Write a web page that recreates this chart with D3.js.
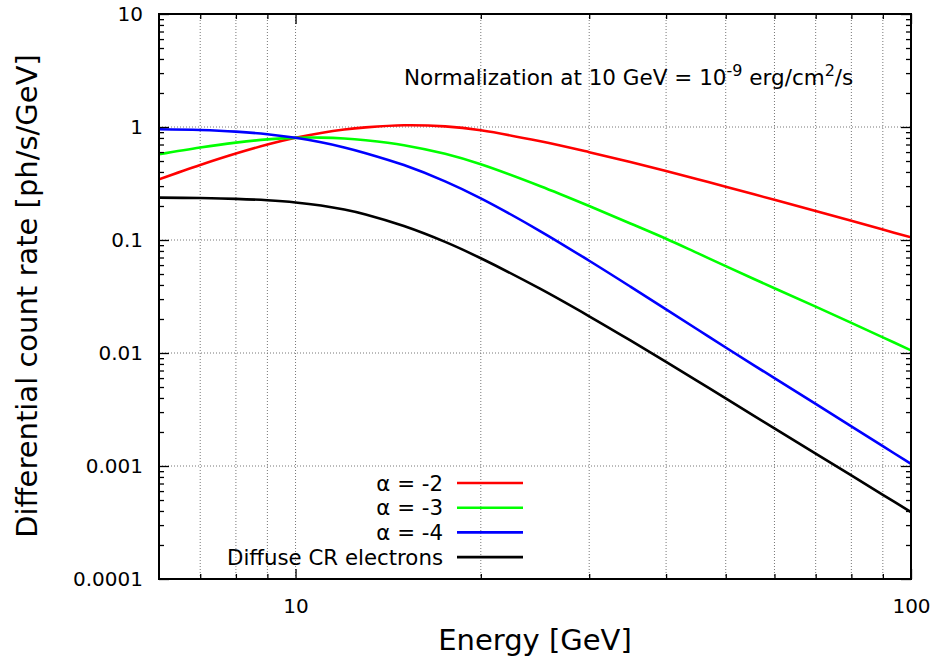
<!DOCTYPE html>
<html><head><meta charset="utf-8">
<script src="https://cdn.jsdelivr.net/npm/d3@7"></script>
<style>body{margin:0;background:#fff}svg{display:block}text{font-family:"DejaVu Sans",sans-serif;fill:#000}</style>
</head><body><svg id="c" width="938" height="658"></svg>
<script>
const energy = [6, 7, 8, 9, 10, 11, 12, 13, 15, 17.5, 20, 25, 30, 35, 40, 45, 50, 60, 70, 80, 90, 100];
const alpha2 = [0.344, 0.461, 0.582, 0.699, 0.802, 0.886, 0.95, 0.992, 1.036, 1.0125, 0.935, 0.747, 0.599, 0.49, 0.4075, 0.345, 0.296, 0.2267, 0.1804, 0.1477, 0.1238, 0.1056];
const alpha3 = [0.5733, 0.6586, 0.7275, 0.7767, 0.802, 0.8055, 0.7917, 0.7631, 0.6907, 0.5786, 0.4675, 0.2988, 0.1997, 0.14, 0.1025, 0.0765, 0.0588, 0.0374, 0.0257, 0.01846, 0.01376, 0.01056];
const alpha4 = [0.9556, 0.9408, 0.9094, 0.863, 0.802, 0.7322, 0.6597, 0.587, 0.4604, 0.3306, 0.2338, 0.1195, 0.0655, 0.03868, 0.02432, 0.01614, 0.01118, 0.00599, 0.003539, 0.00224, 0.001498, 0.001044];
const electrons = [0.237, 0.2351, 0.2314, 0.2247, 0.215, 0.202, 0.1861, 0.1684, 0.1329, 0.0962, 0.0689, 0.03688, 0.02114, 0.01292, 0.00833, 0.005634, 0.003961, 0.002155, 0.001288, 0.000825, 0.000556, 0.000391];
const seriesNames = ["α = -2", "α = -3", "α = -4", "Diffuse CR electrons"];
const seriesColors = ["#ff0000", "#00ff00", "#0000ff", "#000000"];
const xTickLabels = ["10", "100"];
const yTickLabels = ["0.0001", "0.001", "0.01", "0.1", "1", "10"];

const svg = d3.select("#c");
const L = 159, R = 911, T = 14, B = 579;
const x = d3.scaleLog().domain([6, 100]).range([L, R]);
const y = d3.scaleLog().domain([1e-4, 10]).range([B, T]);

// grid
const xMinor = [7,8,9,20,30,40,50,60,70,80,90];
const xAll = [7,8,9,10,20,30,40,50,60,70,80,90];
const g = svg.append("g");
g.selectAll("line.vx").data(xAll).join("line")
  .attr("x1", d => x(d)).attr("x2", d => x(d)).attr("y1", T).attr("y2", B)
  .attr("stroke", "#777").attr("stroke-width", 1).attr("stroke-dasharray", "1,2");
const yMajor = [1e-3, 1e-2, 1e-1, 1];
g.selectAll("line.hy").data(yMajor).join("line")
  .attr("x1", L).attr("x2", R).attr("y1", d => y(d)).attr("y2", d => y(d))
  .attr("stroke", "#777").attr("stroke-width", 1).attr("stroke-dasharray", "1,2");

svg.append("clipPath").attr("id", "clip").append("rect").attr("x", L).attr("y", T).attr("width", R - L).attr("height", B - T);

// curves
const all = [alpha2, alpha3, alpha4, electrons];
const line = d3.line().x((d, i) => x(energy[i])).y(d => y(d)).curve(d3.curveCatmullRom.alpha(0.5));
svg.append("g").attr("clip-path", "url(#clip)").selectAll("path").data(all).join("path")
  .attr("d", d => line(d)).attr("fill", "none")
  .attr("stroke", (d, i) => seriesColors[i]).attr("stroke-width", 2.6);

// axes ticks
const yMinorVals = [];
for (let e = -4; e < 1; e++) for (let k = 2; k <= 9; k++) yMinorVals.push(k * Math.pow(10, e));
const axL = d3.axisLeft(y).tickValues(yMinorVals).tickSize(-5).tickFormat("");
const axR = d3.axisRight(y).tickValues(yMinorVals).tickSize(-5).tickFormat("");
const axLM = d3.axisLeft(y).tickValues([1e-4,1e-3,1e-2,1e-1,1,10]).tickSize(-10).tickPadding(16).tickFormat((d, i) => yTickLabels[i]);
const axRM = d3.axisRight(y).tickValues([1e-4,1e-3,1e-2,1e-1,1,10]).tickSize(-10).tickFormat("");
const axB = d3.axisBottom(x).tickValues(xMinor).tickSize(-5).tickFormat("");
const axT = d3.axisTop(x).tickValues(xMinor).tickSize(-5).tickFormat("");
const axBM = d3.axisBottom(x).tickValues([10, 100]).tickSize(-10).tickPadding(20).tickFormat((d, i) => xTickLabels[i]);
const axTM = d3.axisTop(x).tickValues([10, 100]).tickSize(-10).tickFormat("");
function put(ax, tx, ty) {
  const a = svg.append("g").attr("transform", `translate(${tx},${ty})`).call(ax);
  a.select(".domain").remove();
  a.selectAll("line").attr("stroke", "#000").attr("stroke-width", 1.3);
  a.selectAll("text").attr("font-size", 20).attr("font-family", "DejaVu Sans").attr("fill", "#000");
  return a;
}
put(axL, L, 0); put(axR, R, 0); put(axLM, L, 0); put(axRM, R, 0);
put(axB, 0, B); put(axT, 0, T); put(axBM, 0, B); put(axTM, 0, T);

svg.append("rect").attr("x", L).attr("y", T).attr("width", R - L).attr("height", B - T)
  .attr("fill", "none").attr("stroke", "#000").attr("stroke-width", 2);

// titles
svg.append("text").attr("x", 535).attr("y", 650).attr("text-anchor", "middle").attr("font-size", 29).text("Energy [GeV]");
svg.append("text").attr("transform", "translate(37,296) rotate(-90)").attr("text-anchor", "middle").attr("font-size", 29).text("Differential count rate [ph/s/GeV]");

// annotation
const ann = svg.append("text").attr("x", 404).attr("y", 85).attr("font-size", 21.5);
ann.append("tspan").text("Normalization at 10 GeV = 10");
ann.append("tspan").attr("dy", -9).attr("font-size", 16).text("-9");
ann.append("tspan").attr("dy", 9).text(" erg/cm");
ann.append("tspan").attr("dy", -9).attr("font-size", 16).text("2");
ann.append("tspan").attr("dy", 9).text("/s");

// legend
const lg = svg.append("g").selectAll("g").data(seriesNames).join("g")
  .attr("transform", (d, i) => `translate(0,${483 + i * 24.7})`);
lg.append("text").attr("x", 443).attr("y", 7.5).attr("text-anchor", "end").attr("font-size", 21.3).text(d => d);
lg.append("line").attr("x1", 457).attr("x2", 523).attr("y1", 0).attr("y2", 0)
  .attr("stroke", (d, i) => seriesColors[i]).attr("stroke-width", 2.6);
</script></body></html>
